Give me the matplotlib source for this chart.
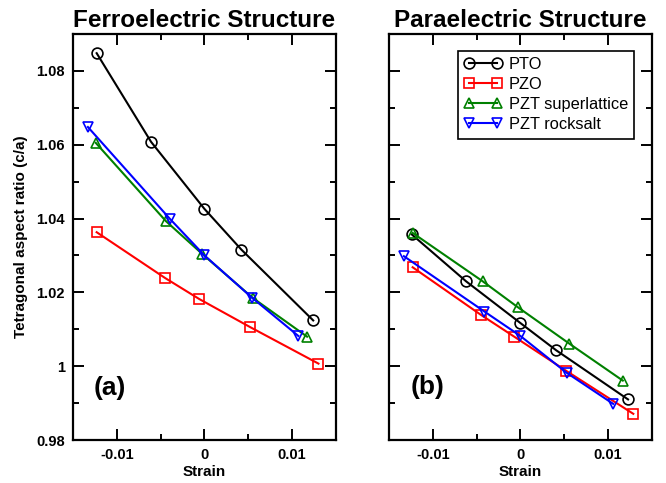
import numpy as np
import matplotlib
matplotlib.use("Agg")
import matplotlib.pyplot as plt
from matplotlib.ticker import MultipleLocator

plt.rcParams['font.family'] = ['Liberation Sans', 'DejaVu Sans']

# strain / c/a values
# (a) ferroelectric
fe_pto_x = [-0.0123, -0.0061, 0.0, 0.0042, 0.0124]
fe_pto_y = [1.0848, 1.0608, 1.0426, 1.0316, 1.0124]
fe_pzo_x = [-0.0123, -0.0045, -0.0006, 0.0052, 0.0130]
fe_pzo_y = [1.0363, 1.0239, 1.0182, 1.0106, 1.0007]
fe_sl_x = [-0.0124, -0.0044, -0.0003, 0.0055, 0.0117]
fe_sl_y = [1.0605, 1.0393, 1.0305, 1.0185, 1.0080]
fe_rs_x = [-0.0133, -0.0039, 0.0, 0.0054, 0.0107]
fe_rs_y = [1.0648, 1.0398, 1.0300, 1.0186, 1.0082]

# (b) paraelectric
pe_pto_x = [-0.0124, -0.0062, 0.0, 0.0041, 0.0123]
pe_pto_y = [1.0357, 1.0230, 1.0117, 1.0043, 0.9910]
pe_pzo_x = [-0.0123, -0.0045, -0.0007, 0.0052, 0.0129]
pe_pzo_y = [1.0268, 1.0139, 1.0080, 0.9988, 0.9871]
pe_sl_x = [-0.0123, -0.0043, -0.0003, 0.0056, 0.0117]
pe_sl_y = [1.0361, 1.0230, 1.0160, 1.0061, 0.9961]
pe_rs_x = [-0.0133, -0.0041, 0.0, 0.0053, 0.0106]
pe_rs_y = [1.0298, 1.0148, 1.0082, 0.9982, 0.9898]

labels = ['PTO', 'PZO', 'PZT superlattice', 'PZT rocksalt']
colors = ['black', 'red', 'green', 'blue']
markers = ['o', 's', '^', 'v']

fig = plt.figure(figsize=(6.66, 4.83), dpi=100)
ax1 = fig.add_axes([0.1096, 0.089, 0.3949, 0.8406])
ax2 = fig.add_axes([0.5841, 0.089, 0.3944, 0.8406])


def draw(ax, data):
    for (x, y), lab, c, m in zip(data, labels, colors, markers):
        ax.plot(x, y, color=c, marker=m, mfc='none', mec=c, ms=7.8,
                mew=1.2, lw=1.5, label=lab)
    ax.set_xlim(-0.015, 0.015)
    ax.set_ylim(0.98, 1.09)
    ax.xaxis.set_major_locator(MultipleLocator(0.01))
    ax.xaxis.set_minor_locator(MultipleLocator(0.005))
    ax.yaxis.set_major_locator(MultipleLocator(0.02))
    ax.yaxis.set_minor_locator(MultipleLocator(0.01))
    ax.tick_params(which='both', direction='in', top=True, right=True,
                   width=1.4, labelsize=10.5, pad=6)
    ax.tick_params(which='major', length=8)
    ax.tick_params(which='minor', length=4.5)
    for s in ax.spines.values():
        s.set_linewidth(1.6)
    ax.set_xticks([-0.01, 0, 0.01])
    ax.set_xticklabels(['-0.01', '0', '0.01'], fontweight='bold')
    ax.set_xlabel('Strain', fontsize=11, fontweight='bold', labelpad=2)


draw(ax1, [(fe_pto_x, fe_pto_y), (fe_pzo_x, fe_pzo_y),
           (fe_sl_x, fe_sl_y), (fe_rs_x, fe_rs_y)])
draw(ax2, [(pe_pto_x, pe_pto_y), (pe_pzo_x, pe_pzo_y),
           (pe_sl_x, pe_sl_y), (pe_rs_x, pe_rs_y)])

ax1.set_yticks([0.98, 1.0, 1.02, 1.04, 1.06, 1.08])
ax1.set_yticklabels(['0.98', '1', '1.02', '1.04', '1.06', '1.08'], fontweight='bold')
ax1.set_ylabel('Tetragonal aspect ratio (c/a)', fontsize=11, fontweight='bold', labelpad=6)
ax2.set_yticklabels([])

ax1.set_title('Ferroelectric Structure', fontsize=17.5, fontweight='bold', pad=5)
ax2.set_title('Paraelectric Structure', fontsize=17.5, fontweight='bold', pad=5)

ax1.text(0.141, 0.128, '(a)', transform=ax1.transAxes, fontsize=19,
         fontweight='bold', ha='center', va='center')
ax2.text(0.148, 0.131, '(b)', transform=ax2.transAxes, fontsize=19,
         fontweight='bold', ha='center', va='center')

leg = ax2.legend(loc='upper right', bbox_to_anchor=(0.934, 0.959),
                 borderaxespad=0, numpoints=2, handlelength=2.3,
                 fontsize=11.8, labelspacing=0.3, handletextpad=0.4,
                 borderpad=0.4, fancybox=False, framealpha=1)
leg.get_frame().set_edgecolor('black')
leg.get_frame().set_linewidth(1.2)

fig.savefig('out.png', dpi=100)
